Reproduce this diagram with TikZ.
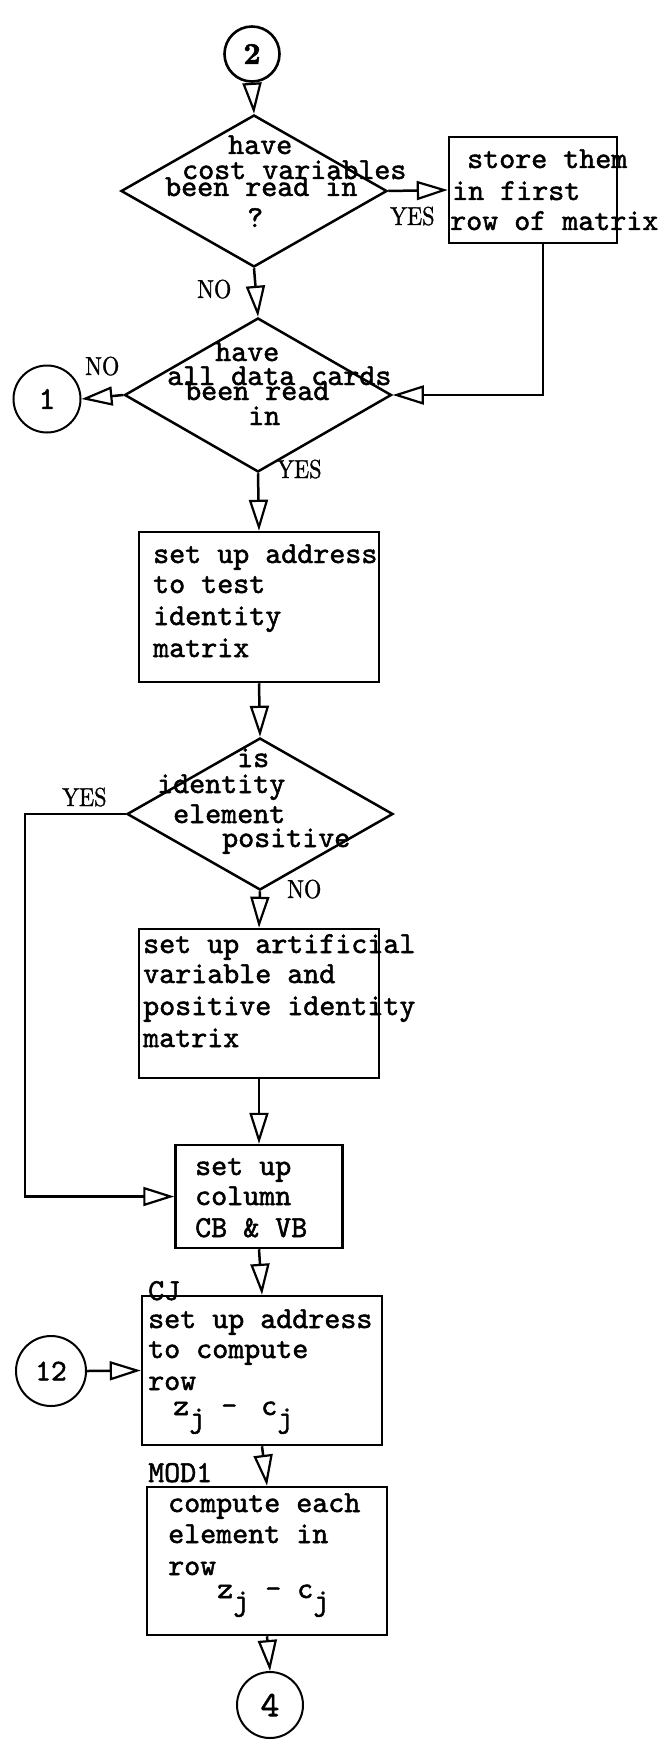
\documentclass[tikz,border=0pt]{standalone}
\usepackage{fontspec}
\usetikzlibrary{shapes.geometric,arrows.meta}
\newfontfamily\typew{lmmono10-regular}[Extension=.otf, FakeBold=1.6]
\newfontfamily\heavyfont{lmroman10-bold}[Extension=.otf, FakeBold=2]
\newfontfamily\labfont{lmroman10-regular}[Extension=.otf, FakeBold=1.2]
\newcommand\labtxt[1]{\scalebox{0.86}[1]{#1}}
\newcommand\lowj{\raisebox{-12pt}{j}}
\begin{document}
\begin{tikzpicture}[x=1pt,y=-1pt,
  boxn/.style={draw, line width=2.5pt, inner sep=0pt, rectangle},
  dia/.style={draw, diamond, line width=2.5pt, inner sep=0pt},
  conn/.style={draw, circle, line width=2pt, inner sep=0pt},
  txt/.style={anchor=base west, inner sep=0pt, font=\typew\fontsize{30.5}{31}\selectfont},
  lbl/.style={anchor=base west, inner sep=0pt, font=\labfont\fontsize{26}{26}\selectfont},
  arr/.style={line width=2.5pt, -{Triangle[open, length=31pt, width=19pt, line width=2.2pt]}}]
\fill[white] (0,0) rectangle (670,1744);
\useasboundingbox (0,0) rectangle (670,1744);

% connectors (circles)
\node[conn, line width=2.6pt, minimum size=55pt, font=\heavyfont\fontsize{30}{30}\selectfont] (c2) at (252,54) {2};
\node[conn, minimum size=67pt, font=\typew\fontsize{32}{32}\selectfont] (c1) at (47,399) {1};
\node[conn, minimum size=70pt, font=\typew\fontsize{30}{30}\selectfont] (c12) at (51,1371) {12};
\node[conn, minimum size=66pt, font=\typew\fontsize{36}{36}\selectfont] (c4) at (270,1705) {4};

% decisions
\node[dia, minimum width=266pt, minimum height=152pt] (d1) at (254,191) {};
\node[dia, minimum width=267pt, minimum height=154pt] (d2) at (258,395) {};
\node[dia, minimum width=266pt, minimum height=152pt] (d3) at (260,814) {};

% process boxes
\node[boxn, minimum width=168pt, minimum height=106pt] (sb) at (533,190) {};
\node[boxn, minimum width=240pt, minimum height=150pt] (b3) at (259,607) {};
\node[boxn, minimum width=240pt, minimum height=149pt] (b4) at (259,1003.5) {};
\node[boxn, minimum width=167pt, minimum height=103pt] (b5) at (259,1196.5) {};
\node[boxn, minimum width=240pt, minimum height=149pt] (b6) at (262,1370.5) {};
\node[boxn, minimum width=240pt, minimum height=148pt] (b7) at (267,1561) {};

% texts of decision 1
\node[txt] (d1a) at (228,154) {have};
\node[txt] (d1b) at (182,179) {cost variables};
\node[txt] (d1c) at (165,196) {been read in};
\node[txt] (d1d) at (247,227) {?};
% store box
\node[txt] (sba) at (467,168) {store them};
\node[txt] (sbb) at (452,200) {in first};
\node[txt] (sbc) at (450,230) {row of matrix};
% decision 2
\node[txt] (d2a) at (215,361) {have};
\node[txt] (d2b) at (167,385) {all data cards};
\node[txt] (d2c) at (185,400) {been read};
\node[txt] (d2d) at (248,425) {in};
% box 3
\node[txt] (b3a) at (153,563) {set up address};
\node[txt] (b3b) at (153,593) {to test};
\node[txt] (b3c) at (153,625) {identity};
\node[txt] (b3d) at (153,657) {matrix};
% decision 3
\node[txt] (d3a) at (237,767) {is};
\node[txt] (d3b) at (157,793) {identity};
\node[txt] (d3c) at (173,823) {element};
\node[txt] (d3d) at (222,847) {positive};
% box 4
\node[txt] (b4a) at (143,953) {set up artificial};
\node[txt] (b4b) at (143,983) {variable and};
\node[txt] (b4c) at (143,1015) {positive identity};
\node[txt] (b4d) at (143,1047) {matrix};
% box 5
\node[txt] (b5a) at (195,1175) {set up};
\node[txt] (b5b) at (195,1205) {column};
\node[txt] (b5c) at (195,1237) {CB \& VB};
% box 6
\node[txt] (b6l) at (148,1300) {CJ};
\node[txt] (b6a) at (148,1328) {set up address};
\node[txt] (b6b) at (148,1358) {to compute};
\node[txt] (b6c) at (148,1390) {row};
\node[txt] (b6d) at (173,1415) {z\lowj{} -\hspace{8pt} c\lowj};
% box 7
\node[txt] (b7l) at (148,1482) {MOD1};
\node[txt] (b7a) at (168,1512) {compute each};
\node[txt] (b7b) at (168,1543) {element in};
\node[txt] (b7c) at (168,1575) {row};
\node[txt] (b7d) at (217,1598) {z\lowj{} - c\lowj};

% labels
\node[lbl] (y1) at (390,225) {\labtxt{YES}};
\node[lbl] (n1) at (197,298) {\labtxt{NO}};
\node[lbl] (n2) at (85,375) {\labtxt{NO}};
\node[lbl] (y2) at (277,478) {\labtxt{YES}};
\node[lbl] (y3) at (62,806) {\labtxt{YES}};
\node[lbl] (n3) at (287,898) {\labtxt{NO}};

% flow lines
\coordinate (yl) at (25,814);
\draw[arr] (c2.south) -- (d1.north);
\draw[arr] (d1.east) -- (sb.west);
\draw[arr] (d1.south) -- (d2.north);
\draw[arr] ([xshift=10pt]sb.south) |- (d2.east);
\draw[arr] (d2.west) -- (c1.east);
\draw[arr] (d2.south) -- (b3.north);
\draw[arr] (b3.south) -- (d3.north);
\draw[arr] (d3.south) -- (b4.north);
\draw[arr] (d3.west) -- (yl) |- (b5.west);
\draw[arr] (b4.south) -- (b5.north);
\draw[arr] (b5.south) -- (b6.north);
\draw[arr] (c12.east) -- (b6.west);
\draw[arr] (b6.south) -- (b7.north);
\draw[arr] (b7.south) -- (c4.north);
\end{tikzpicture}
\end{document}
